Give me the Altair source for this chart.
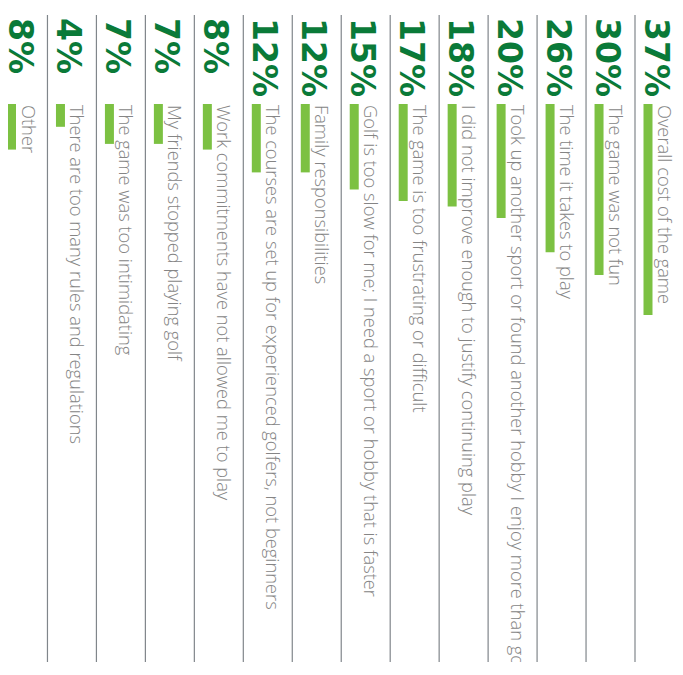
import altair as alt
import pandas as pd

reasons = [
    "Overall cost of the game",
    "The game was not fun",
    "The time it takes to play",
    "Took up another sport or found another hobby I enjoy more than golf",
    "I did not improve enough to justify continuing play",
    "The game is too frustrating or difficult",
    "Golf is too slow for me; I need a sport or hobby that is faster",
    "Family responsibilities",
    "The courses are set up for experienced golfers, not beginners",
    "Work commitments have not allowed me to play",
    "My friends stopped playing golf",
    "The game was too intimidating",
    "There are too many rules and regulations",
    "Other",
]
percents = [37, 30, 26, 20, 18, 17, 15, 12, 12, 8, 7, 7, 4, 8]

df = pd.DataFrame({"reason": reasons, "pct": percents})
df["pct_label"] = df["pct"].astype(str) + "%"

order = list(reversed(reasons))  # rightmost = first reason

W, H = 667, 654
last_left = 635 - 8          # plot coords of the rightmost column's left rule
band = (635 + 1.5) / 13
left_edge = last_left - 13 * band
xscale = alt.Scale(domain=order, range=[left_edge, left_edge + 14 * band],
                   paddingInner=0, paddingOuter=0, round=False)
yscale = alt.Scale(domain=[0, 100], range=[96, 96 + 570])

X0 = alt.X("reason:N", scale=xscale, sort=order, bandPosition=0, axis=None)

base = alt.Chart(df)

rules = base.mark_rule(color="#80868b", strokeWidth=1.2).encode(
    x=X0, y=alt.value(7), y2=alt.value(H)
)

bars = base.mark_rule(color="#7cc142", strokeWidth=9, strokeCap="butt", xOffset=13).encode(
    x=X0,
    y=alt.Y("pct:Q", scale=yscale, axis=None),
    y2=alt.datum(0),
)

pct_text = base.mark_text(
    angle=90, align="left", baseline="alphabetic", font="DejaVu Sans",
    fontWeight="bold", fontSize=33, color="#0a7a38", xOffset=10, yOffset=-86,
).encode(x=X0, y=alt.datum(0), text="pct_label:N")

labels = base.mark_text(
    angle=90, align="left", baseline="alphabetic", font="Open Sans",
    fontWeight=300, fontSize=18.3, color="#858585", xOffset=23, yOffset=1,
).encode(x=X0, y=alt.datum(0), text="reason:N")

chart = alt.layer(rules, bars, pct_text, labels).properties(
    width=W, height=H, padding=0, autosize=alt.AutoSizeParams(type="none")
).configure_view(stroke=None)

chart.save("out.html", embed_options={"renderer": "svg", "actions": False})
